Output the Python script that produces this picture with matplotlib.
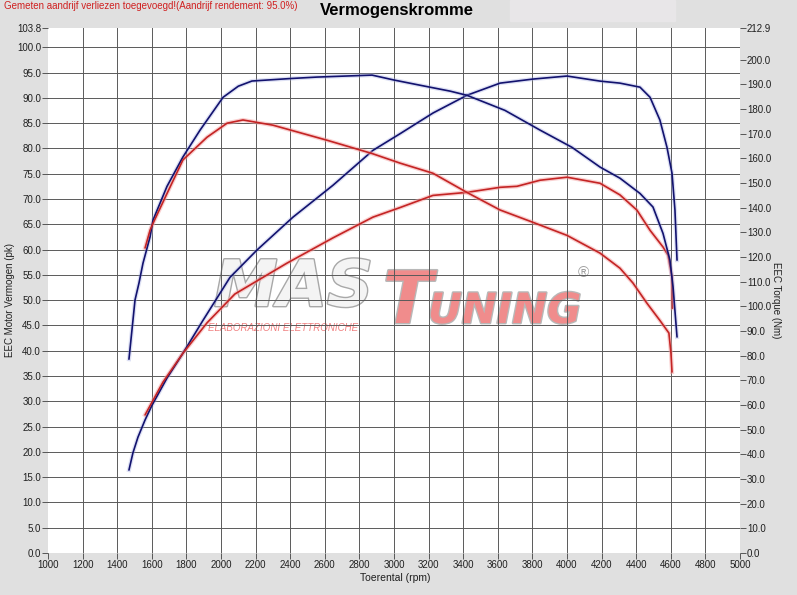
import numpy as np
import matplotlib.pyplot as plt
import matplotlib.patheffects as pe

plt.rcParams['font.family'] = ['Liberation Sans', 'DejaVu Sans']

# blue run: power (pk) and torque (Nm)
blue_pwr_rpm = [1468, 1491, 1520, 1561, 1601, 1688, 1780, 1896, 2052, 2208, 2416, 2647,
                2878, 3035, 3226, 3422, 3613, 3803, 4000, 4191, 4306, 4422, 4480, 4537,
                4578, 4607, 4624, 4636]
blue_pwr = [16.4, 19.8, 22.9, 26.3, 29.2, 34.6, 39.5, 46.0, 54.5, 59.9, 66.4, 72.7,
            79.6, 82.9, 87.0, 90.5, 92.9, 93.7, 94.3, 93.3, 92.9, 92.1, 90.1, 85.6,
            80.2, 75.1, 67.8, 57.9]

blue_trq_rpm = [1468, 1485, 1503, 1526, 1549, 1590, 1607, 1688, 1780, 1879, 2012, 2100,
                2179, 2400, 2555, 2873, 3000, 3150, 3324, 3422, 3641, 3844, 4029, 4191,
                4306, 4422, 4497, 4555, 4595, 4613, 4636]
blue_trq = [78.6, 90.2, 102.6, 109.5, 117.5, 128.2, 135.0, 148.7, 160.6, 171.5, 184.8, 189.3,
            191.4, 192.4, 193.0, 193.8, 191.8, 189.7, 187.3, 185.6, 179.5, 171.5, 164.5, 156.5,
            152.0, 145.8, 140.3, 129.6, 118.8, 107.9, 87.6]

# red run: power (pk) and torque (Nm)
red_pwr_rpm = [1561, 1665, 1780, 1919, 2080, 2381, 2647, 2878, 3035, 3225, 3422, 3613,
               3711, 3844, 4000, 4191, 4306, 4404, 4480, 4555, 4584, 4607, 4610]
red_pwr = [27.3, 33.8, 39.5, 45.5, 51.2, 57.3, 62.3, 66.4, 68.3, 70.7, 71.3, 72.3,
           72.5, 73.7, 74.3, 73.1, 70.8, 67.8, 63.8, 60.5, 58.9, 54.5, 48.4]

red_trq_rpm = [1561, 1590, 1607, 1688, 1780, 1919, 2035, 2127, 2300, 2612, 2873, 3035,
               3225, 3422, 3613, 3803, 4000, 4191, 4306, 4381, 4462, 4537, 4589, 4601, 4607]
red_trq = [123.7, 130.9, 133.7, 145.8, 159.4, 168.6, 174.3, 175.6, 173.5, 167.4, 162.0, 158.1,
           154.0, 146.2, 139.1, 134.1, 128.8, 121.6, 115.5, 109.5, 101.3, 94.3, 89.2, 81.0, 73.4]

x_ticks = list(range(1000, 5001, 200))
pk_ticks = [v * 5.0 for v in range(21)] + [103.8]
nm_ticks = [v * 10.0 for v in range(21)] + [212.9]

fig = plt.figure(figsize=(7.97, 5.95), dpi=100, facecolor='#e0e0e0')
ax = fig.add_axes([48 / 797, 1 - 553 / 595, 692 / 797, 525 / 595])
ax.set_facecolor('white')
ax.set_xlim(1000, 5000)
ax.set_ylim(0, 103.8)
for s in ax.spines.values():
    s.set_visible(False)

# grid (interior only)
for xv in x_ticks[1:-1]:
    ax.axvline(xv, color='#5a5a5a', lw=0.7, zorder=1)
for yv in pk_ticks[1:-1]:
    ax.axhline(yv, color='#5a5a5a', lw=0.7, zorder=1)

ax.set_xticks(x_ticks)
ax.set_xticklabels([str(v) for v in x_ticks])
ax.set_yticks(pk_ticks)
ax.set_yticklabels(['%.1f' % v for v in pk_ticks])
ax.tick_params(direction='out', length=4, width=0.6, color='#404040',
               labelsize=7, labelcolor='#202020', pad=1)

ax2 = ax.twinx()
ax2.set_ylim(0, 212.9)
for s in ax2.spines.values():
    s.set_visible(False)
ax2.set_yticks(nm_ticks)
ax2.set_yticklabels(['%.1f' % v for v in nm_ticks])
ax2.tick_params(direction='out', length=4, width=0.6, color='#404040',
                labelsize=7, labelcolor='#202020', pad=1)

# watermark
wm = dict(transform=fig.transFigure, style='italic', weight='bold', zorder=0.5,
          family='DejaVu Sans')
ax.text(214 / 797, 1 - 306 / 595, 'MAS', fontsize=46, color='#f4f4f4',
        path_effects=[pe.withStroke(linewidth=2, foreground='#a8a8a8')], **wm)
ax.text(383 / 797, 1 - 323 / 595, 'T', fontsize=52, color='#f08c8c',
        path_effects=[pe.withStroke(linewidth=2, foreground='#b8b8b8')], **wm)
ax.text(428 / 797, 1 - 323 / 595, 'UNING', fontsize=30, color='#f08c8c',
        path_effects=[pe.withStroke(linewidth=2, foreground='#b8b8b8')], **wm)
ax.text(208 / 797, 1 - 331 / 595, 'ELABORAZIONI ELETTRONICHE', fontsize=7,
        color='#f08080', transform=fig.transFigure, zorder=0.5, style='italic')
ax.text(578 / 797, 1 - 277 / 595, '\u00ae', fontsize=11, color='#a0a0a0',
        transform=fig.transFigure, zorder=0.5)

# curves
line_kw = dict(lw=1.2, zorder=3, solid_joinstyle='round', solid_capstyle='round')
ax.plot(blue_pwr_rpm, blue_pwr, color='#9fa8e0', lw=3, alpha=0.35, zorder=2)
ax.plot(blue_pwr_rpm, blue_pwr, color='#12126e', **line_kw)
ax.plot(red_pwr_rpm, red_pwr, color='#f4a0a0', lw=3, alpha=0.5, zorder=2)
ax.plot(red_pwr_rpm, red_pwr, color='#c42424', **line_kw)
ax2.plot(blue_trq_rpm, blue_trq, color='#9fa8e0', lw=3, alpha=0.35, zorder=2)
ax2.plot(blue_trq_rpm, blue_trq, color='#12126e', **line_kw)
ax2.plot(red_trq_rpm, red_trq, color='#f4a0a0', lw=3, alpha=0.5, zorder=2)
ax2.plot(red_trq_rpm, red_trq, color='#c42424', **line_kw)

# texts
fig.patches.append(plt.Rectangle((510 / 797, 1 - 21 / 595), 165 / 797, 21 / 595,
                                 transform=fig.transFigure, color='#e8e6e8', zorder=0))
fig.text(397 / 797, 1 - 10 / 595, 'Vermogenskromme', fontsize=12, weight='bold',
         ha='center', va='center')
fig.text(4 / 797, 1 - 6 / 595, 'Gemeten aandrijf verliezen toegevoegd!(Aandrijf rendement: 95.0%)',
         fontsize=7, color='#d02020', ha='left', va='center')
fig.text(10 / 797, 1 - 300 / 595, 'EEC Motor Vermogen (pk)', fontsize=7, rotation=90,
         ha='center', va='center', color='#202020')
fig.text(776 / 797, 1 - 300 / 595, 'EEC Torque (Nm)', fontsize=7, rotation=270,
         ha='center', va='center', color='#202020')
fig.text(395 / 797, 1 - 578 / 595, 'Toerental (rpm)', fontsize=7.5,
         ha='center', va='center', color='#202020')

fig.savefig('out.png', dpi=100, facecolor=fig.get_facecolor())
